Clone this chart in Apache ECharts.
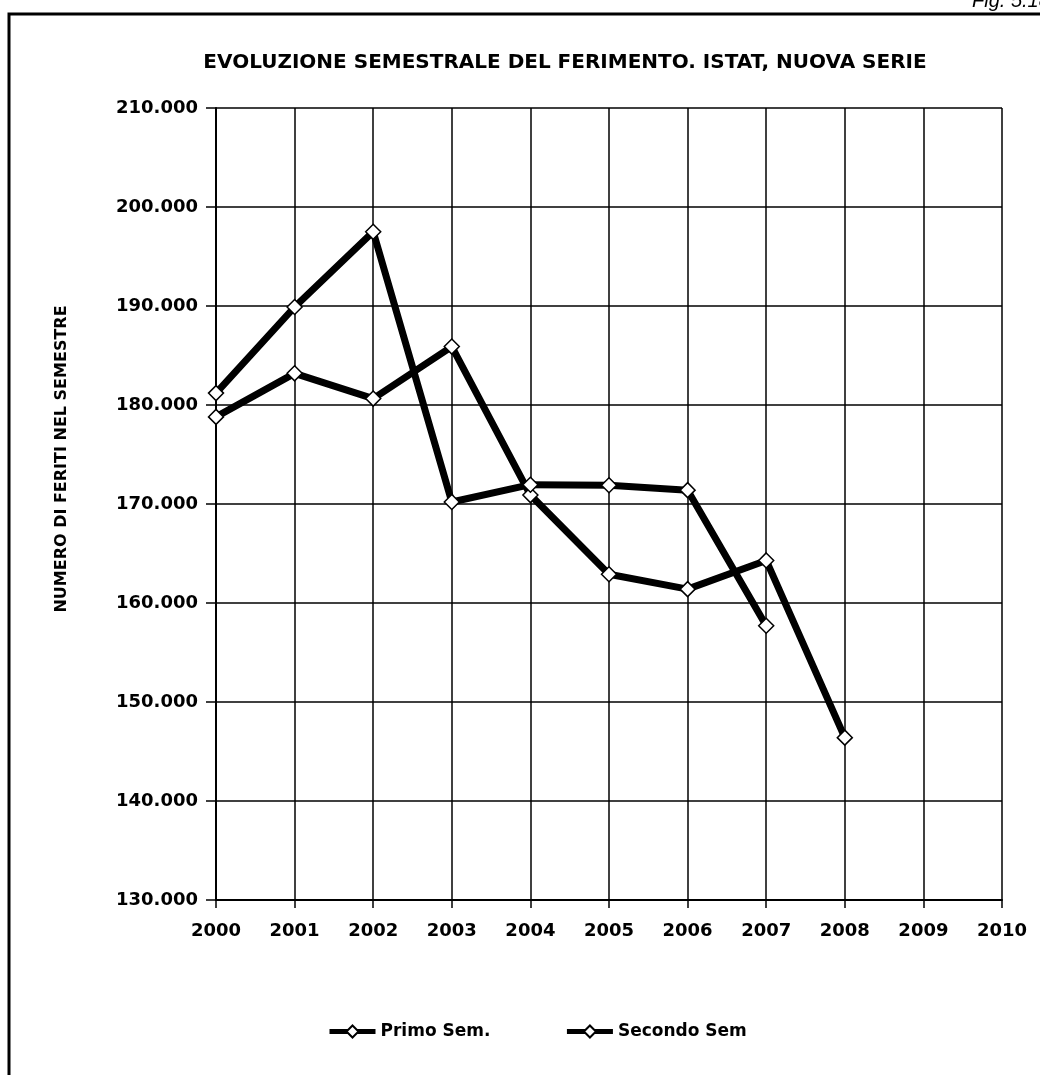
<!DOCTYPE html>
<html>
<head>
<meta charset="utf-8">
<script src="https://cdn.jsdelivr.net/npm/echarts@6/dist/echarts.min.js"></script>
<style>
html,body{margin:0;padding:0;background:#fff;}
#chart{width:1040px;height:1075px;}
</style>
</head>
<body>
<div id="chart"></div>
<script>
var years = ['2000','2001','2002','2003','2004','2005','2006','2007','2008','2009','2010'];
var primoSem = [178800, 183200, 180650, 185900, 170900, 162900, 161400, 164300, 146400, null, null];
var secondoSem = [181200, 189900, 197500, 170200, 171950, 171900, 171400, 157700, null, null, null];

var chart = echarts.init(document.getElementById('chart'));
var FONT = 'DejaVu Sans';
function fmt(v){
  var s = String(Math.round(v));
  return s.replace(/\B(?=(\d{3})+(?!\d))/g, '.');
}
var markerStyle = {color:'#fff', borderColor:'#000', borderWidth:1.5};
chart.setOption({
  animation:false,
  backgroundColor:'#fff',
  title:{
    text:'EVOLUZIONE SEMESTRALE DEL FERIMENTO. ISTAT, NUOVA SERIE',
    left:560, top:48, textAlign:'center',
    textStyle:{fontFamily:FONT, fontWeight:'bold', fontSize:20, color:'#000'}
  },
  graphic:[
    {type:'rect', shape:{x:9, y:14, width:1100, height:1100}, style:{fill:'none', stroke:'#000', lineWidth:3}},
    {type:'text', left:972, top:-9, style:{text:'Fig. 5.18', font:'italic 20px "Liberation Sans"', fill:'#000'}},
    {type:'text', x:62, y:459, rotation:Math.PI/2,
     style:{text:'NUMERO DI FERITI NEL SEMESTRE', font:'bold 16px "DejaVu Sans"', fill:'#000', textAlign:'center', textVerticalAlign:'middle'}}
  ],
  legend:{
    left:322, top:1018, itemGap:74, itemWidth:46, itemHeight:15,
    lineStyle:{width:5, color:'#000'},
    textStyle:{fontFamily:FONT, fontWeight:'bold', fontSize:17, color:'#000'},
    data:['Primo Sem.','Secondo Sem']
  },
  grid:{left:216, right:38, top:108, bottom:175},
  xAxis:{
    type:'category', data:years, boundaryGap:false,
    axisLine:{lineStyle:{color:'#000', width:2}},
    axisTick:{show:true, length:8, lineStyle:{color:'#000', width:1.5}},
    axisLabel:{fontFamily:FONT, fontWeight:'bold', fontSize:18, color:'#000', margin:22},
    splitLine:{show:true, lineStyle:{color:'#000', width:1.5}}
  },
  yAxis:{
    type:'value', min:130000, max:210000, interval:10000,
    axisLine:{show:true, lineStyle:{color:'#000', width:2}},
    axisTick:{show:true, length:10, lineStyle:{color:'#000', width:1.5}},
    axisLabel:{fontFamily:FONT, fontWeight:'bold', fontSize:18, color:'#000', margin:18, formatter:function(v){return fmt(v);}},
    splitLine:{show:true, lineStyle:{color:'#000', width:1.5}}
  },
  series:[
    {name:'Primo Sem.', type:'line', data:primoSem, symbol:'diamond', symbolSize:15,
     lineStyle:{color:'#000', width:7}, itemStyle:markerStyle, z:3},
    {name:'Secondo Sem', type:'line', data:secondoSem, symbol:'diamond', symbolSize:15,
     lineStyle:{color:'#000', width:7}, itemStyle:markerStyle, z:4}
  ]
});
</script>
</body>
</html>
